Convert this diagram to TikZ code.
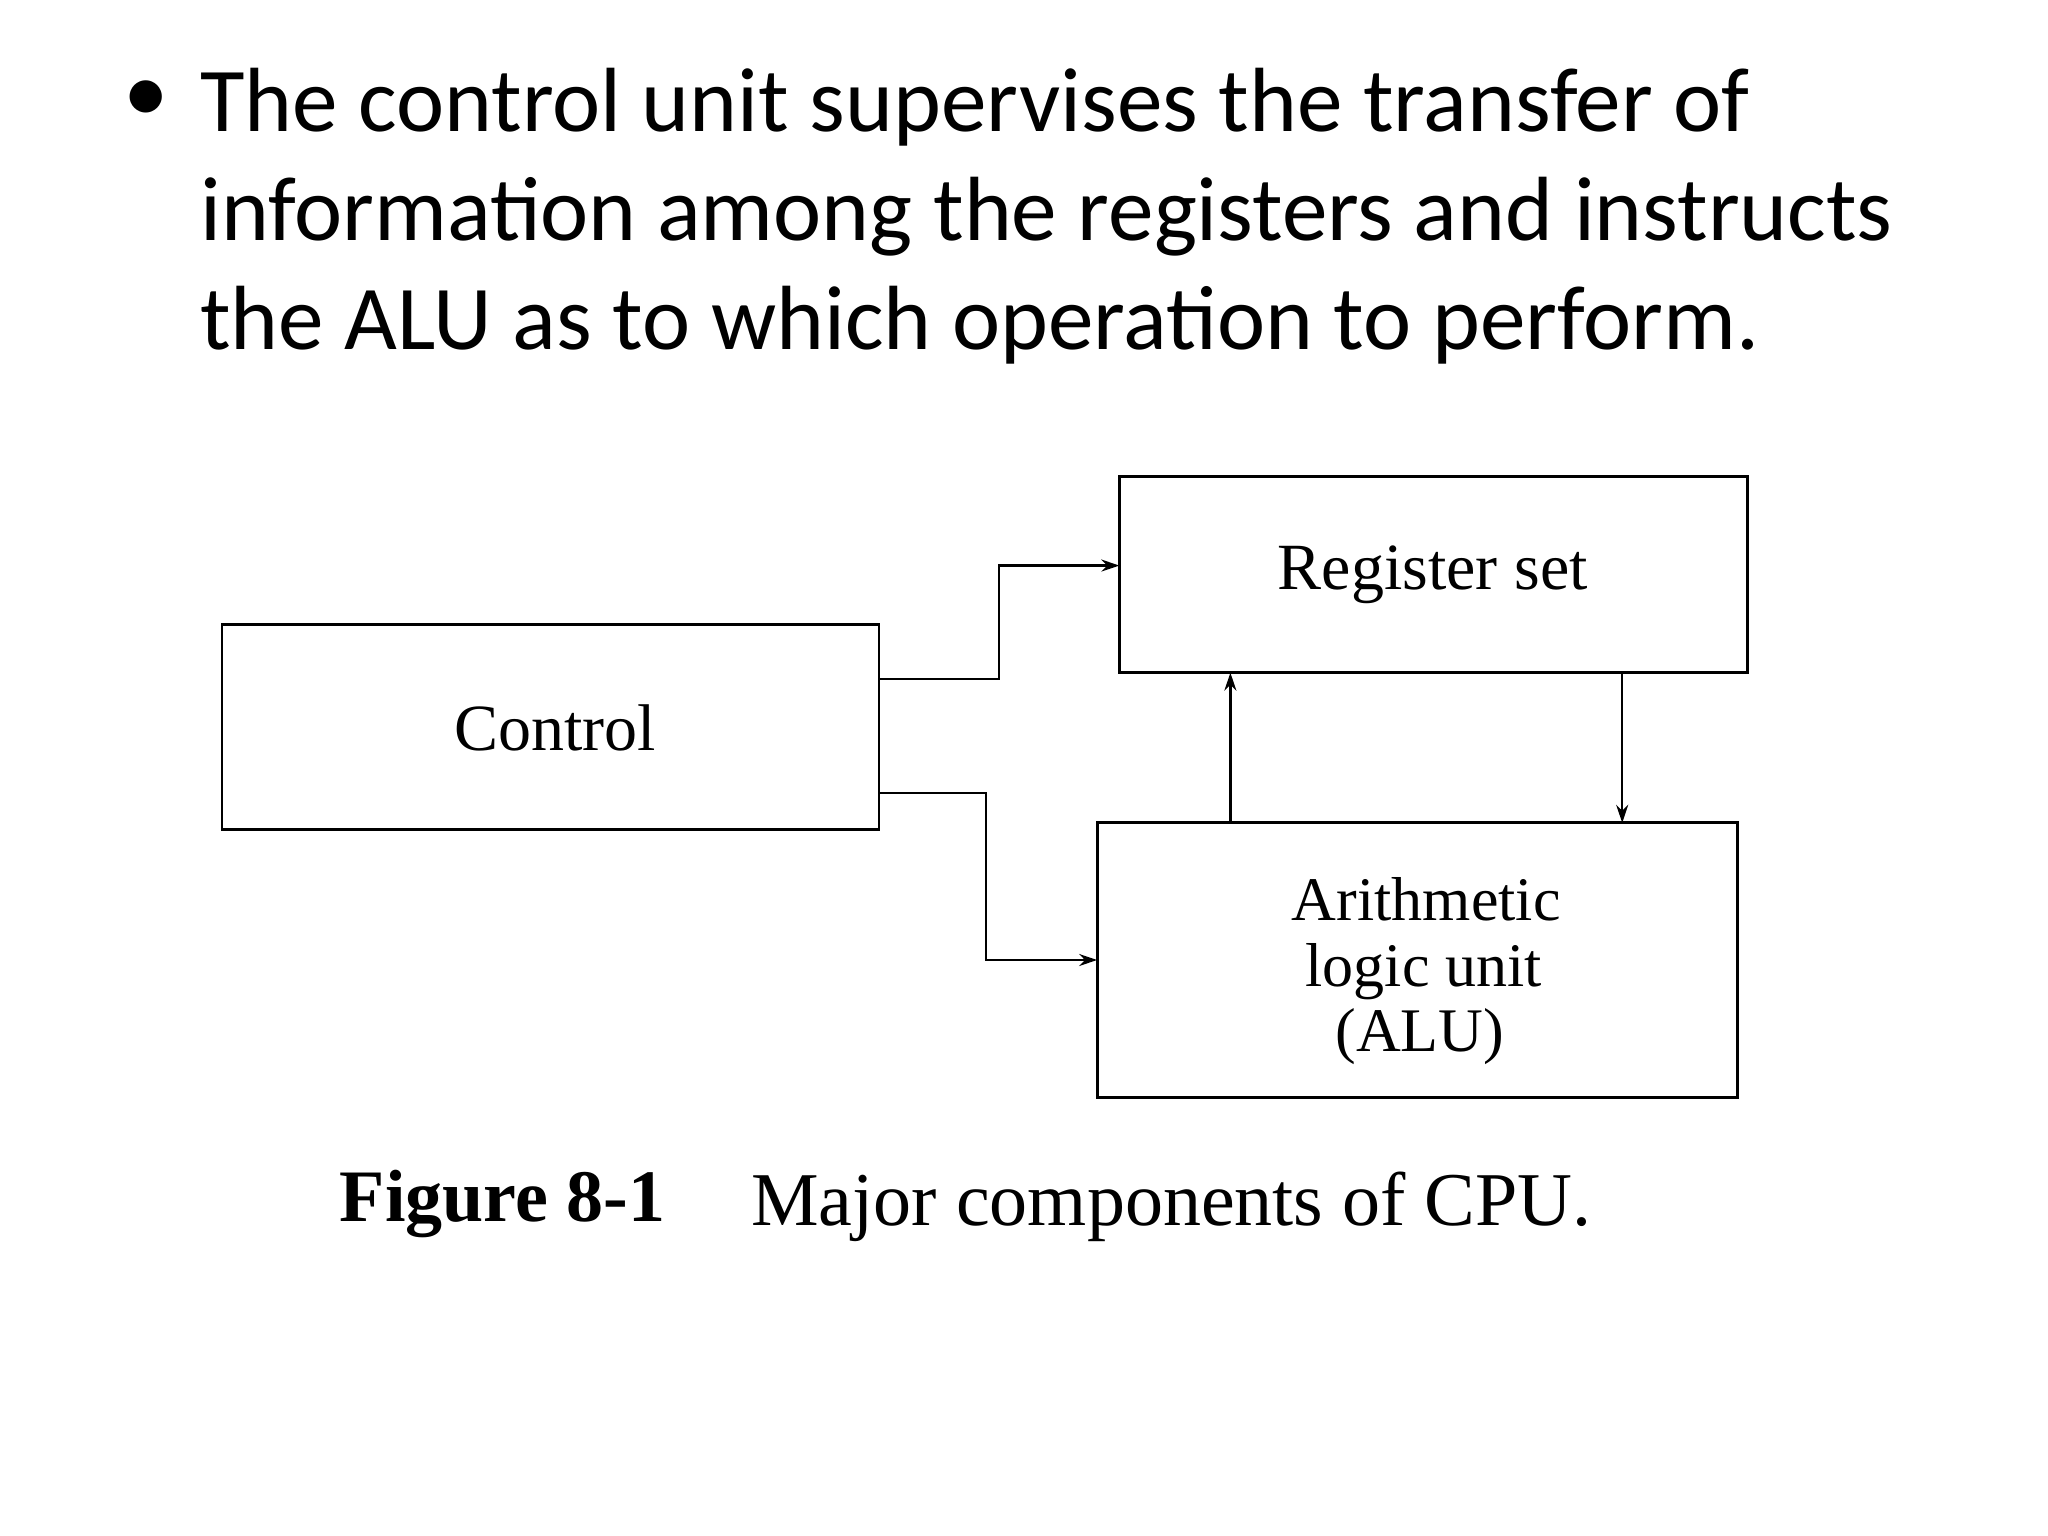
\documentclass[tikz,border=0pt]{standalone}
\usepackage{fontspec}
\setmainfont{Liberation Serif}
\newfontfamily\slidefont{Carlito}
\usetikzlibrary{arrows.meta}
\begin{document}
\begin{tikzpicture}[x=0.653pt,y=-0.653pt,
  box/.style={draw,line width=1.4pt,inner sep=0pt},
  lbl/.style={font=\fontsize{33}{36}\selectfont,inner sep=0pt},
  albl/.style={font=\fontsize{31}{34}\selectfont,inner sep=0pt,anchor=base},
  conn/.style={line width=1.2pt,-{Stealth[length=9pt,width=6pt]}}]
\useasboundingbox (0,0) rectangle (1568,1176);
\node[font=\slidefont\fontsize{45.6}{54}\selectfont,inner sep=0] (bul) at (112,78) {\textbullet};
\node[anchor=north west,font=\slidefont\fontsize{45.6}{54.5}\selectfont,align=left,inner sep=0] (txt) at (153,52) {The control unit supervises the transfer of\\information among the registers and instructs\\the ALU as to which operation to perform.};
\draw[box] (857,365) rectangle (1338,515);
\node[lbl] (reg) at (1097,440) {Register set};
\draw[box] (170,478) rectangle (673,635);
\node[lbl] (ctl) at (425,557) {Control};
\draw[box] (840,630) rectangle (1330,840);
\node[albl] (alu1) at (1092,705) {Arithmetic};
\node[albl] (alu2) at (1090,755) {logic unit};
\node[albl] (alu3) at (1087,805) {(ALU)};
\coordinate (c1) at (673,520); \coordinate (r1) at (857,433);
\coordinate (c2) at (673,607); \coordinate (a1) at (840,735);
\coordinate (au) at (942,630); \coordinate (ru) at (942,515);
\coordinate (rd) at (1242,515); \coordinate (ad) at (1242,630);
\draw[conn] (c1) -- (765,520) -- (765,433) -- (r1);
\draw[conn] (c2) -- (755,607) -- (755,735) -- (a1);
\draw[conn] (au) -- (ru);
\draw[conn] (rd) -- (ad);
\node[anchor=base west,font=\bfseries\fontsize{37}{40}\selectfont,inner sep=0] (fig) at (260,935) {Figure 8-1};
\node[anchor=base west,font=\fontsize{38}{40}\selectfont,inner sep=0] (cap) at (575,938) {Major components of CPU.};
\end{tikzpicture}
\end{document}
